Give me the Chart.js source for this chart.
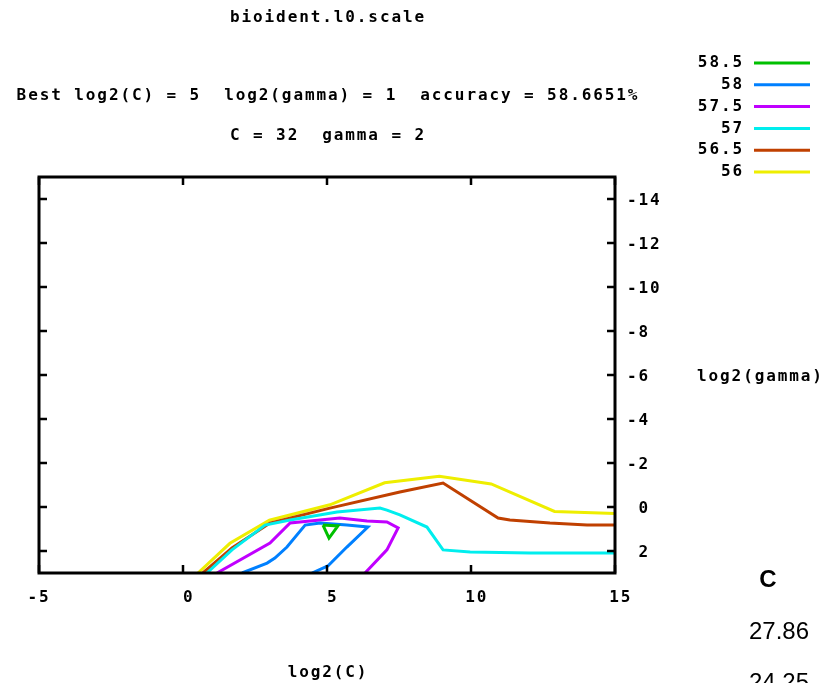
<!DOCTYPE html>
<html>
<head>
<meta charset="utf-8">
<title>bioident.l0.scale</title>
<script src="https://cdn.jsdelivr.net/npm/chart.js@4.4.1/dist/chart.umd.min.js"></script>
<style>
  body { margin: 0; background: #ffffff; }
  #wrap { width: 825px; height: 683px; }
</style>
</head>
<body>
<div id="wrap"><canvas id="contourChart" width="825" height="683"></canvas></div>
<script>
// contour levels (accuracy %) and gnuplot line colours
var levels = ['58.5', '58', '57.5', '57', '56.5', '56'];
var levelColors = ['#00c000', '#0080ff', '#c000ff', '#00eeee', '#c04000', '#eeee00'];

// tick labels
var xTicks = [-5, 0, 5, 10, 15];
var yTicks = [-14, -12, -10, -8, -6, -4, -2, 0, 2];

// contour paths: log2(C) and log2(gamma)
var c585X = [4.86, 5.38, 5.07, 4.86];
var c585Y = [0.82, 0.86, 1.41, 0.82];

var c58X = [2.05, 2.92, 3.19, 3.61, 4.24, 4.76, 5.69, 6.42, 5.69, 5.03, 4.48];
var c58Y = [3.0, 2.55, 2.32, 1.82, 0.82, 0.73, 0.82, 0.91, 1.82, 2.68, 3.0];

var c575X = [1.18, 3.02, 3.72, 4.76, 5.45, 6.39, 7.08, 7.47, 7.08, 6.32];
var c575Y = [3.0, 1.64, 0.73, 0.59, 0.5, 0.64, 0.68, 0.95, 1.95, 3.0];

var c57X = [0.83, 1.7, 2.85, 3.72, 5.35, 6.84, 7.08, 7.53, 8.47, 9.03, 9.97, 12.05, 15];
var c57Y = [3.0, 1.95, 0.82, 0.59, 0.23, 0.05, 0.14, 0.36, 0.91, 1.95, 2.05, 2.09, 2.09];

var c565X = [0.69, 1.7, 3.02, 5.1, 7.53, 9.03, 10.94, 11.35, 12.74, 14.03, 15];
var c565Y = [3.0, 1.86, 0.73, 0.05, -0.68, -1.09, 0.5, 0.59, 0.73, 0.82, 0.82];

var c56X = [0.52, 1.63, 3.0, 5.1, 7.0, 8.9, 10.7, 12.9, 15];
var c56Y = [3.0, 1.65, 0.6, -0.1, -1.1, -1.4, -1.05, 0.2, 0.3];

var pathsX = [c585X, c58X, c575X, c57X, c565X, c56X];
var pathsY = [c585Y, c58Y, c575Y, c57Y, c565Y, c56Y];

function toPoints(xs, ys) {
    var pts = [];
    for (var i = 0; i < xs.length; i++) {
        pts.push({ x: xs[i], y: ys[i] });
    }
    return pts;
}

// gnuplot "% g" style: leading space for non-negative numbers
function gnuFormat(v) {
    return (v >= 0 ? ' ' : '') + v;
}

var gnuFont = '"DejaVu Sans Mono", "Liberation Mono", monospace';
var gnuSpacing = '1.9px';

var datasets = levels.map(function(lv, i) {
    return {
        label: lv,
        data: toPoints(pathsX[i], pathsY[i]),
        borderColor: levelColors[i],
        borderWidth: 3,
        showLine: true,
        fill: false,
        pointRadius: 0,
        tension: 0
    };
});

// draws frame, mirrored inward ticks, titles and the gnuplot key
var gnuplotDecor = {
    id: 'gnuplotDecor',
    beforeDraw: function(chart) {
        chart.ctx.letterSpacing = gnuSpacing;
    },
    afterDatasetsDraw: function(chart) {
        var ctx = chart.ctx;
        var a = chart.chartArea;
        var xs = chart.scales.x;
        var ys = chart.scales.y;
        var tl = 8;

        ctx.save();
        ctx.strokeStyle = '#000000';
        ctx.lineWidth = 2.5;
        ctx.beginPath();
        xTicks.forEach(function(v) {
            var px = xs.getPixelForValue(v);
            ctx.moveTo(px, a.bottom); ctx.lineTo(px, a.bottom - tl);
            ctx.moveTo(px, a.top); ctx.lineTo(px, a.top + tl);
        });
        yTicks.forEach(function(v) {
            var py = ys.getPixelForValue(v);
            ctx.moveTo(a.left, py); ctx.lineTo(a.left + tl, py);
            ctx.moveTo(a.right, py); ctx.lineTo(a.right - tl, py);
        });
        ctx.stroke();
        ctx.lineWidth = 3;
        ctx.strokeRect(a.left, a.top, a.right - a.left, a.bottom - a.top);

        // titles
        ctx.fillStyle = '#000000';
        ctx.letterSpacing = gnuSpacing;
        ctx.font = 'bold 16px ' + gnuFont;
        ctx.textBaseline = 'middle';
        ctx.textAlign = 'center';
        var cx = (a.left + a.right) / 2 + 1;
        ctx.fillText('bioident.l0.scale', cx, 18);
        ctx.fillText('Best log2(C) = 5  log2(gamma) = 1  accuracy = 58.6651%', cx, 96);
        ctx.fillText('C = 32  gamma = 2', cx, 136);
        ctx.fillText('log2(C)', cx, 673);
        ctx.textAlign = 'left';
        ctx.fillText('log2(gamma)', 697, (a.top + a.bottom) / 2 + 2);

        // key
        levels.forEach(function(lv, i) {
            var ky = 63 + i * 21.8;
            ctx.fillStyle = '#000000';
            ctx.textAlign = 'right';
            ctx.fillText(lv, 744, ky);
            ctx.strokeStyle = levelColors[i];
            ctx.lineWidth = 3;
            ctx.beginPath();
            ctx.moveTo(754, ky);
            ctx.lineTo(810, ky);
            ctx.stroke();
        });

        // stray table column at the right
        ctx.letterSpacing = '0px';
        ctx.fillStyle = '#000000';
        ctx.font = 'bold 24px "Liberation Sans", Arial, sans-serif';
        ctx.textAlign = 'center';
        ctx.fillText('C', 768, 580);
        ctx.font = '24px "Liberation Sans", Arial, sans-serif';
        ctx.textAlign = 'right';
        ctx.fillText('27.86', 809, 632);
        ctx.fillText('24.25', 809, 683);
        ctx.restore();
    }
};

var ctx = document.getElementById('contourChart');
var contourChart = new Chart(ctx.getContext('2d'), {
    type: 'scatter',
    data: { datasets: datasets },
    options: {
        responsive: false,
        animation: false,
        layout: { padding: { left: 39, top: 177, right: 0, bottom: 0 } },
        plugins: {
            legend: { display: false },
            tooltip: { enabled: false },
            title: { display: false }
        },
        scales: {
            x: {
                type: 'linear',
                min: -5,
                max: 15,
                afterBuildTicks: function(scale) {
                    scale.ticks = xTicks.map(function(v) { return { value: v }; });
                },
                afterFit: function(scale) { scale.height = 110; },
                grid: { display: false, drawTicks: false },
                border: { display: false },
                ticks: {
                    autoSkip: false,
                    maxRotation: 0,
                    padding: 15,
                    color: '#000000',
                    font: { family: gnuFont, size: 16, weight: 'bold' },
                    callback: function(v) { return gnuFormat(v); }
                }
            },
            y: {
                type: 'linear',
                position: 'right',
                reverse: true,
                min: -15,
                max: 3,
                afterBuildTicks: function(scale) {
                    scale.ticks = yTicks.map(function(v) { return { value: v }; });
                },
                afterFit: function(scale) { scale.width = 210; },
                grid: { display: false, drawTicks: false },
                border: { display: false },
                ticks: {
                    autoSkip: false,
                    padding: 12,
                    labelOffset: 2,
                    color: '#000000',
                    font: { family: gnuFont, size: 16, weight: 'bold' },
                    callback: function(v) { return gnuFormat(v); }
                }
            }
        }
    },
    plugins: [gnuplotDecor]
});
</script>
</body>
</html>
